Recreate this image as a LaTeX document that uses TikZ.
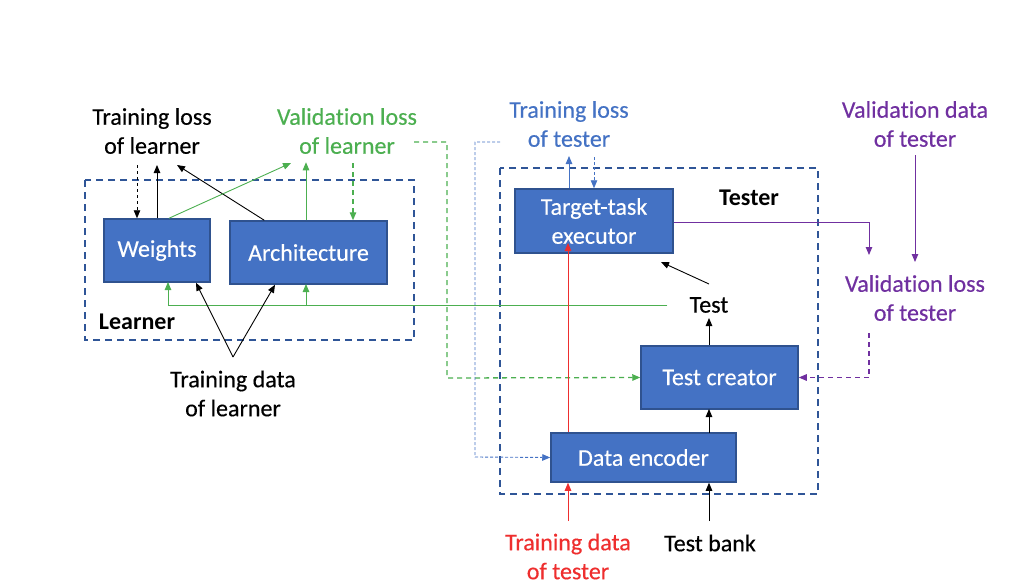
\documentclass[tikz,border=0pt]{standalone}
\usepackage{fontspec}
\setmainfont{Carlito}[Ligatures=NoCommon,FakeBold=0.35,BoldFeatures={FakeBold=0}]
\usetikzlibrary{arrows.meta,calc}
\definecolor{boxblue}{HTML}{4472C4}
\definecolor{boxedge}{HTML}{2F528F}
\definecolor{navy}{HTML}{2F5597}
\definecolor{lgreen}{HTML}{4CAF50}
\definecolor{tblue}{HTML}{4472C4}
\definecolor{tpurple}{HTML}{7030A0}
\definecolor{tred}{HTML}{EE2E2E}
\tikzset{
  blockbox/.style={draw=boxedge,line width=1.5pt,fill=boxblue,text=white,inner sep=0pt,font=\fontsize{24}{29}\selectfont,align=center},
  lbl/.style={inner sep=0pt,font=\fontsize{24}{29}\selectfont,align=center},
  grp/.style={draw=navy,line width=2pt,dash pattern=on 7pt off 5pt},
  arr/.style={line width=0.9pt,-{Triangle[length=8pt,width=6.5pt]}},
  gdash/.style={line width=1.3pt,dash pattern=on 5pt off 4pt},
  bdot/.style={dash pattern=on 3pt off 2pt},
}
\begin{document}
\begin{tikzpicture}[x=1pt,y=-1pt]
\useasboundingbox (0,0) rectangle (1010,586);
% group boxes
\draw[grp] (85,180) rectangle (414,340);
\draw[grp] (500,168) rectangle (818,494);
% blocks
\node[blockbox,minimum width=106pt,minimum height=63pt] (w) at (157,250.5) {Weights};
\node[blockbox,minimum width=157pt,minimum height=63pt] (a) at (308.5,252.5) {Architecture};
\node[blockbox,minimum width=158pt,minimum height=64pt] (tte) at (594,221) {Target-task\\executor};
\node[blockbox,minimum width=157pt,minimum height=63pt] (tc) at (719.5,377.5) {Test creator};
\node[blockbox,minimum width=185pt,minimum height=49pt] (de) at (643.5,457.5) {Data encoder};
% labels
\node[lbl] (tll) at (152,131) {Training loss\\of learner};
\node[lbl,text=lgreen] (vll) at (347,131) {Valida\kern0pt tion loss\\of learner};
\node[lbl,text=tblue] (tlt) at (569,124) {Training loss\\of tester};
\node[lbl,text=tpurple] (vdt) at (915,124) {Valida\kern0pt tion data\\of tester};
\node[lbl,text=tpurple] (vlt) at (915,298) {Valida\kern0pt tion loss\\of tester};
\node[lbl] (tdl) at (233,393.5) {Training data\\of learner};
\node[lbl,text=tred] (tdt) at (568,556.5) {Training data\\of tester};
\node[lbl] (tb) at (710,543) {Test bank};
\node[lbl] (test) at (709,305) {Test};
\node[lbl,font=\fontsize{24}{29}\selectfont\bfseries] (learner) at (137,322) {Learner};
\node[lbl,font=\fontsize{24}{29}\selectfont\bfseries] (tester) at (749,198) {Tester};
% free ends
\coordinate (tlla) at (137,165);
\coordinate (tllb) at (177,165);
\coordinate (vlla) at (291,163);
\coordinate (vllb) at (353,163);
\coordinate (tdla) at (233,357);
\coordinate (vllc) at (414,142);
\coordinate (tltc) at (500,142);
\coordinate (tlta) at (569,156);
\coordinate (tltb) at (594,157);
\coordinate (vdta) at (915,155);
\coordinate (vlta) at (869,333);
\coordinate (testa) at (709,284);
\coordinate (testb) at (709,318);
\coordinate (tteb) at (661,262);
\coordinate (tbu) at (709,521);
\coordinate (tdtu) at (568,521);
% learner connectors
\draw[arr,dashed] (tlla) -- (tlla |- w.north);
\draw[arr] (w.north) -- (w.north |- tlla);
\draw[arr] ($(a.north west)+(35,0)$) -- (tllb);
\draw[arr,lgreen] ($(w.north)+(12,0)$) -- (vlla);
\draw[arr,lgreen] ($(a.north)+(-2.5,0)$) -- ($(a.north)+(-2.5,-58)$);
\draw[arr,lgreen,gdash] (vllb) -- (vllb |- a.north);
\draw[lgreen,line width=0.9pt] ($(test.west)+(-22,0)$) -- (168,305);
\draw[arr,lgreen] (168,305) -- (168,282);
\draw[arr,lgreen] (306,305) -- (306,284);
\draw[arr] (tdla) -- ($(w.south)+(39,0)$);
\draw[arr] (tdla) -- ($(a.south)+(-33.5,0)$);
\draw[arr,lgreen,gdash] (vllc) -- (447,142) -- (447,378) -- (tc.west);
\draw[arr,tblue,bdot] (tltc) -- (475,142) -- (475,457) -- (de.west);
% tester connectors
\draw[arr,tblue] (tlta |- tte.north) -- (tlta);
\draw[arr,tblue,bdot] (tltb) -- (tltb |- tte.north);
\draw[arr,tred] (tdtu) -- (tdtu |- de.south);
\draw[arr,tred] (tdtu |- de.north) -- (568,243);
\draw[arr,tpurple] (tte.east |- 0,222) -- (869,222) -- (869,255);
\draw[arr,tpurple] (vdta) -- (915,262);
\draw[arr,tpurple,gdash] (vlta) -- (vlta |- tc.east) -- (tc.east);
\draw[arr] (testa) -- (tteb);
\draw[arr] (testb |- tc.north) -- (testb);
\draw[arr] (709,433) -- (709,409);
\draw[arr] (tbu) -- (tbu |- de.south);
\end{tikzpicture}
\end{document}
